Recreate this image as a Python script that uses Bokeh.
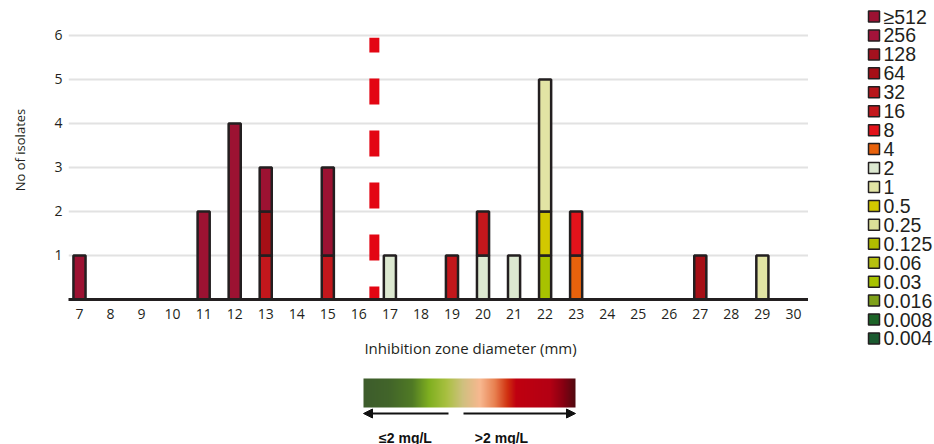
import numpy as np
from bokeh.plotting import figure
from bokeh.models import (ColumnDataSource, Range1d, FixedTicker, Arrow, NormalHead)
from bokeh.layouts import column, row
from bokeh.embed import file_html
from bokeh.resources import INLINE
from bokeh.core.properties import value

# ---------------- data ----------------
zones = list(range(7, 31))                      # inhibition zone diameter (mm)
zone_labels = [str(z) for z in zones]

mic_labels = ["≥512", "256", "128", "64", "32", "16", "8", "4", "2", "1",
              "0.5", "0.25", "0.125", "0.06", "0.03", "0.016", "0.008", "0.004"]
mic_colors = ["#9c1232", "#a3133a", "#a4111e", "#a60f16", "#b7161b", "#c3171c",
              "#e3131b", "#e8620c", "#dce8d0", "#e2e4a4", "#d2c800", "#dcdf98",
              "#b2bc00", "#b6c010", "#a8c200", "#7fa11a", "#1d6428", "#1b5a30"]

#                 7  8  9 10 11 12 13 14 15 16 17 18 19 20 21 22 23 24 25 26 27 28 29 30
n_ge512 =       [1, 0, 0, 0, 2, 4, 1, 0, 2, 0, 0, 0, 0, 0, 0, 0, 0, 0, 0, 0, 0, 0, 0, 0]
n_256 =         [0, 0, 0, 0, 0, 0, 0, 0, 0, 0, 0, 0, 0, 0, 0, 0, 0, 0, 0, 0, 0, 0, 0, 0]
n_128 =         [0, 0, 0, 0, 0, 0, 0, 0, 0, 0, 0, 0, 0, 0, 0, 0, 0, 0, 0, 0, 0, 0, 0, 0]
n_64 =          [0, 0, 0, 0, 0, 0, 1, 0, 0, 0, 0, 0, 0, 0, 0, 0, 0, 0, 0, 0, 1, 0, 0, 0]
n_32 =          [0, 0, 0, 0, 0, 0, 0, 0, 0, 0, 0, 0, 0, 0, 0, 0, 0, 0, 0, 0, 0, 0, 0, 0]
n_16 =          [0, 0, 0, 0, 0, 0, 1, 0, 1, 0, 0, 0, 1, 1, 0, 0, 0, 0, 0, 0, 0, 0, 0, 0]
n_8 =           [0, 0, 0, 0, 0, 0, 0, 0, 0, 0, 0, 0, 0, 0, 0, 0, 1, 0, 0, 0, 0, 0, 0, 0]
n_4 =           [0, 0, 0, 0, 0, 0, 0, 0, 0, 0, 0, 0, 0, 0, 0, 0, 1, 0, 0, 0, 0, 0, 0, 0]
n_2 =           [0, 0, 0, 0, 0, 0, 0, 0, 0, 0, 1, 0, 0, 1, 1, 0, 0, 0, 0, 0, 0, 0, 0, 0]
n_1 =           [0, 0, 0, 0, 0, 0, 0, 0, 0, 0, 0, 0, 0, 0, 0, 3, 0, 0, 0, 0, 0, 0, 1, 0]
n_0_5 =         [0, 0, 0, 0, 0, 0, 0, 0, 0, 0, 0, 0, 0, 0, 0, 1, 0, 0, 0, 0, 0, 0, 0, 0]
n_0_25 =        [0, 0, 0, 0, 0, 0, 0, 0, 0, 0, 0, 0, 0, 0, 0, 0, 0, 0, 0, 0, 0, 0, 0, 0]
n_0_125 =       [0, 0, 0, 0, 0, 0, 0, 0, 0, 0, 0, 0, 0, 0, 0, 0, 0, 0, 0, 0, 0, 0, 0, 0]
n_0_06 =        [0, 0, 0, 0, 0, 0, 0, 0, 0, 0, 0, 0, 0, 0, 0, 0, 0, 0, 0, 0, 0, 0, 0, 0]
n_0_03 =        [0, 0, 0, 0, 0, 0, 0, 0, 0, 0, 0, 0, 0, 0, 0, 1, 0, 0, 0, 0, 0, 0, 0, 0]
n_0_016 =       [0, 0, 0, 0, 0, 0, 0, 0, 0, 0, 0, 0, 0, 0, 0, 0, 0, 0, 0, 0, 0, 0, 0, 0]
n_0_008 =       [0, 0, 0, 0, 0, 0, 0, 0, 0, 0, 0, 0, 0, 0, 0, 0, 0, 0, 0, 0, 0, 0, 0, 0]
n_0_004 =       [0, 0, 0, 0, 0, 0, 0, 0, 0, 0, 0, 0, 0, 0, 0, 0, 0, 0, 0, 0, 0, 0, 0, 0]

counts = [n_ge512, n_256, n_128, n_64, n_32, n_16, n_8, n_4, n_2, n_1,
          n_0_5, n_0_25, n_0_125, n_0_06, n_0_03, n_0_016, n_0_008, n_0_004]

breakpoint_zone = 16.5
breakpoint_top = 5.95
y_ticks = [1, 2, 3, 4, 5, 6]

x_title = "Inhibition zone diameter (mm)"
y_title = "No of isolates"

# colour scale under the chart
grad_stops = [0.0, 0.12, 0.23, 0.31, 0.39, 0.47, 0.55, 0.62, 0.68, 0.72, 0.88, 0.94, 1.0]
grad_colors = ["#3d5c2c", "#42652a", "#507a25", "#80b020", "#a8c040", "#d0c080",
               "#f8b890", "#e88050", "#d03010", "#c00010", "#b40014", "#8a0012", "#500a10"]
scale_texts = ["≤2 mg/L", ">2 mg/L"]

INK = "#231f20"
FONT = "Open Sans"

# ---------------- main chart ----------------
p = figure(width=808, height=330, x_range=Range1d(6.646, 30.486), y_range=Range1d(0, 6.795),
           output_backend="svg", toolbar_location=None,
           min_border_left=68, min_border_right=0, min_border_top=0, min_border_bottom=31)
p.outline_line_color = None
p.background_fill_color = "white"
p.xgrid.grid_line_color = None
p.ygrid.ticker = FixedTicker(ticks=y_ticks)
p.ygrid.grid_line_color = "#e2e2e2"
p.ygrid.grid_line_width = 2

cum = np.zeros(len(zones))
for i in reversed(range(len(mic_labels))):
    cnt = np.array(counts[i], dtype=float)
    mask = cnt > 0
    if mask.any():
        src = ColumnDataSource(dict(x=np.array(zones)[mask], bottom=cum[mask], top=(cum + cnt)[mask]))
        p.vbar(x="x", bottom="bottom", top="top", width=0.39, source=src,
               fill_color=mic_colors[i], line_color=INK, line_width=2.5)
    cum += cnt

p.segment(x0=[breakpoint_zone], y0=[0], x1=[breakpoint_zone], y1=[breakpoint_top],
          line_color="#e30613", line_width=10, line_dash="26 26", line_dash_offset=13)

p.xaxis.ticker = FixedTicker(ticks=zones)
p.xaxis.major_label_overrides = {z: l for z, l in zip(zones, zone_labels)}
p.xaxis.axis_line_color = INK
p.xaxis.axis_line_width = 3
p.xaxis.major_tick_line_color = None
p.xaxis.minor_tick_line_color = None
p.xaxis.major_tick_out = 0
p.xaxis.major_tick_in = 0
p.xaxis.major_label_standoff = 9
p.xaxis.major_label_text_font = FONT
p.xaxis.major_label_text_font_size = "14px"
p.xaxis.major_label_text_color = INK

p.yaxis.ticker = FixedTicker(ticks=y_ticks)
p.yaxis.axis_line_color = None
p.yaxis.major_tick_line_color = None
p.yaxis.minor_tick_line_color = None
p.yaxis.major_tick_out = 0
p.yaxis.major_tick_in = 0
p.yaxis.major_label_standoff = 6
p.yaxis.major_label_text_font = FONT
p.yaxis.major_label_text_font_size = "14px"
p.yaxis.major_label_text_color = INK
p.yaxis.axis_label = y_title
p.yaxis.axis_label_text_font = FONT
p.yaxis.axis_label_text_font_size = "13px"
p.yaxis.axis_label_text_font_style = "normal"
p.yaxis.axis_label_text_color = INK
p.yaxis.axis_label_standoff = 22

# ---------------- x title + colour scale (page coordinates; panel spans y 330..444) ----------------
PANEL_TOP, PANEL_BOTTOM = 330, 444
g = figure(width=808, height=PANEL_BOTTOM - PANEL_TOP, x_range=Range1d(68, 808),
           y_range=Range1d(0, PANEL_BOTTOM - PANEL_TOP),
           output_backend="svg", toolbar_location=None,
           x_axis_location=None, y_axis_location=None,
           min_border_left=68, min_border_right=0, min_border_top=0, min_border_bottom=0)
g.outline_line_color = None
g.grid.visible = False

def fy(page_y):
    return PANEL_BOTTOM - page_y

g.text(x=[470], y=[fy(347)], text=[x_title], text_align="center", text_baseline="middle",
       text_font=value(FONT), text_font_size="15px", text_color=INK)

def hex_to_rgb(h):
    h = h.lstrip("#")
    return np.array([int(h[k:k + 2], 16) for k in (0, 2, 4)], dtype=float)

bar_left, bar_right, bar_top, bar_bottom = 363, 575, 378, 407
n_steps = bar_right - bar_left
fr = (np.arange(n_steps) + 0.5) / n_steps
rgb = np.array([hex_to_rgb(c) for c in grad_colors])
img = np.zeros((2, n_steps), dtype=np.uint32)
view = img.view(dtype=np.uint8).reshape((2, n_steps, 4))
for ch in range(3):
    view[:, :, ch] = np.interp(fr, grad_stops, rgb[:, ch]).astype(np.uint8)
view[:, :, 3] = 255
g.image_rgba(image=[img], x=bar_left, y=fy(bar_bottom), dw=bar_right - bar_left,
             dh=bar_bottom - bar_top)

arrow_y = fy(413)
g.add_layout(Arrow(end=NormalHead(size=9, fill_color="#111111", line_color="#111111"),
                   x_start=448, y_start=arrow_y, x_end=bar_left, y_end=arrow_y,
                   line_width=2, line_color="#111111"))
g.add_layout(Arrow(end=NormalHead(size=9, fill_color="#111111", line_color="#111111"),
                   x_start=463, y_start=arrow_y, x_end=bar_right, y_end=arrow_y,
                   line_width=2, line_color="#111111"))
g.text(x=[405, 501], y=[fy(429), fy(429)], text=scale_texts, text_align="center", text_baseline="top",
       text_font=value("Liberation Sans"), text_font_style="bold", text_font_size="14px",
       text_color="#111111")

# ---------------- legend panel ----------------
leg = figure(width=126, height=444, x_range=Range1d(0, 126), y_range=Range1d(444, 0),
             output_backend="svg", toolbar_location=None,
             x_axis_location=None, y_axis_location=None,
             min_border_left=0, min_border_right=0, min_border_top=0, min_border_bottom=0)
leg.outline_line_color = None
leg.grid.visible = False
first_y, pitch = 16, 18.94
leg_y = [first_y + k * pitch for k in range(len(mic_labels))]
lsrc = ColumnDataSource(dict(y=leg_y, label=mic_labels, color=mic_colors))
leg.rect(x=65.5, y="y", width=11, height=11, fill_color="color", line_color=INK,
         line_width=1.5, source=lsrc)
leg.text(x=75, y="y", text="label", text_baseline="middle", text_align="left",
         text_font=value("Liberation Sans"), text_font_size="19.5px", text_color=INK, source=lsrc)

layout = row(column(p, g), leg)
open("out.html", "w").write(file_html(layout, INLINE))
